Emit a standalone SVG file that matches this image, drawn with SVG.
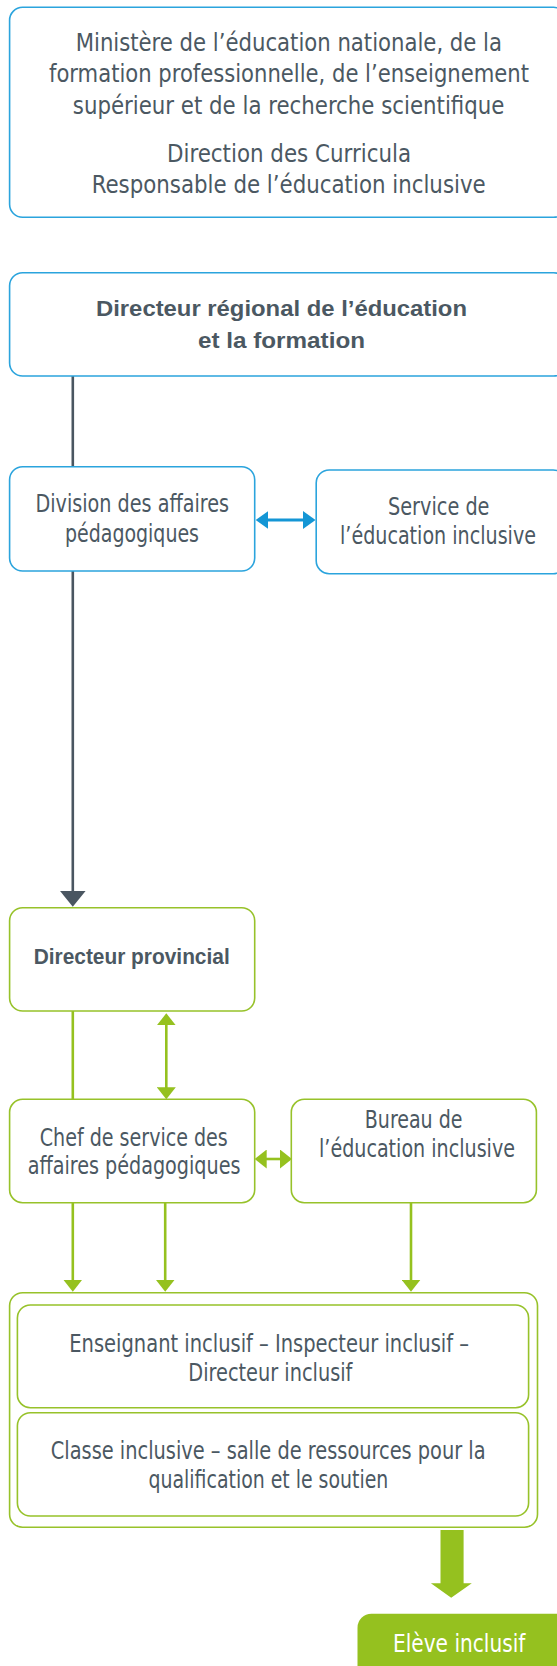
<svg xmlns="http://www.w3.org/2000/svg" width="557" height="1666" viewBox="0 0 557 1666">
<style>
  .bb { fill: #ffffff; stroke: #2ba4dd; stroke-width: 1.6; }
  .gb { fill: #ffffff; stroke: #97c22a; stroke-width: 1.6; }
  .t { font-family: "Liberation Sans Narrow", "DejaVu Sans Condensed", "Liberation Sans", sans-serif; font-size: 24px; fill: #4b5862; }
  .tb { font-family: "Liberation Sans", Arial, sans-serif; font-size: 21.5px; font-weight: bold; fill: #4b5862; }
  .tw { font-family: "Liberation Sans Narrow", "DejaVu Sans Condensed", "Liberation Sans", sans-serif; font-size: 24px; fill: #ffffff; }
  .cd { stroke: #4a5661; stroke-width: 2.6; fill: none; }
  .cg { stroke: #95c11f; stroke-width: 2.6; fill: none; }
  .cb { stroke: #1496d5; stroke-width: 3; fill: none; }
</style>
<defs>
  <marker id="mg" markerUnits="userSpaceOnUse" viewBox="0 0 12 19" markerWidth="12" markerHeight="19" refX="9" refY="9.5" orient="auto-start-reverse">
    <path d="M0,0 L12,9.5 L0,19 Z" fill="#95c11f"/>
  </marker>
  <marker id="mb" markerUnits="userSpaceOnUse" viewBox="0 0 12.5 18" markerWidth="12.5" markerHeight="18" refX="9.5" refY="9" orient="auto-start-reverse">
    <path d="M0,0 L12.5,9 L0,18 Z" fill="#1496d5"/>
  </marker>
  <marker id="md" markerUnits="userSpaceOnUse" viewBox="0 0 16 26" markerWidth="16" markerHeight="26" refX="13" refY="13" orient="auto">
    <path d="M0,0 L16,13 L0,26 Z" fill="#4a5661"/>
  </marker>
</defs>

<g id="connectors">
  <line class="cd" x1="72.8" y1="376" x2="72.8" y2="467"/>
  <line class="cd" x1="72.8" y1="571" x2="72.8" y2="903.7" marker-end="url(#md)"/>
  <line class="cb" x1="258.8" y1="520" x2="312.5" y2="520" marker-start="url(#mb)" marker-end="url(#mb)"/>
  <line class="cg" x1="72.8" y1="1011" x2="72.8" y2="1099.3"/>
  <line class="cg" x1="166.3" y1="1016.3" x2="166.3" y2="1096.3" marker-start="url(#mg)" marker-end="url(#mg)"/>
  <line class="cg" x1="257.7" y1="1159" x2="289" y2="1159" marker-start="url(#mg)" marker-end="url(#mg)"/>
  <line class="cg" x1="72.8" y1="1202.7" x2="72.8" y2="1288.7" marker-end="url(#mg)"/>
  <line class="cg" x1="165.2" y1="1202.7" x2="165.2" y2="1288.7" marker-end="url(#mg)"/>
  <line class="cg" x1="411" y1="1202.7" x2="411" y2="1288.7" marker-end="url(#mg)"/>
  <polygon points="440.5,1530 463.6,1530 463.6,1583.3 471.8,1583.3 451.2,1597.7 430.9,1583.3 440.5,1583.3" fill="#95c11f"/>
</g>

<g id="ministere">
  <rect class="bb" x="9.6" y="7.3" width="557" height="210" rx="13"/>
  <text class="t" x="75.7" y="50.7" textLength="426.3" lengthAdjust="spacingAndGlyphs">Ministère de l’éducation nationale, de la</text>
  <text class="t" x="49" y="81.7" textLength="480" lengthAdjust="spacingAndGlyphs">formation professionnelle, de l’enseignement</text>
  <text class="t" x="72.8" y="114.3" textLength="431.6" lengthAdjust="spacingAndGlyphs">supérieur et de la recherche scientifique</text>
  <text class="t" x="167" y="161.7" textLength="244" lengthAdjust="spacingAndGlyphs">Direction des Curricula</text>
  <text class="t" x="91.7" y="193.3" textLength="394" lengthAdjust="spacingAndGlyphs">Responsable de l’éducation inclusive</text>
</g>

<g id="directeur-regional">
  <rect class="bb" x="9.6" y="272.7" width="557" height="103.3" rx="13"/>
  <text class="tb" x="96" y="316" textLength="371" lengthAdjust="spacingAndGlyphs">Directeur régional de l’éducation</text>
  <text class="tb" x="198" y="348.3" textLength="167" lengthAdjust="spacingAndGlyphs">et la formation</text>
</g>

<g id="division">
  <rect class="bb" x="9.6" y="466.7" width="245.1" height="104.3" rx="13"/>
  <text class="t" x="35.5" y="511.7" textLength="193.5" lengthAdjust="spacingAndGlyphs">Division des affaires</text>
  <text class="t" x="65" y="541.7" textLength="134" lengthAdjust="spacingAndGlyphs">pédagogiques</text>
</g>

<g id="service">
  <rect class="bb" x="316.2" y="470" width="250" height="103.7" rx="13"/>
  <text class="t" x="388" y="515" textLength="101.5" lengthAdjust="spacingAndGlyphs">Service de</text>
  <text class="t" x="340" y="544" textLength="196" lengthAdjust="spacingAndGlyphs">l’éducation inclusive</text>
</g>

<g id="directeur-provincial">
  <rect class="gb" x="9.6" y="907.7" width="245.1" height="103.3" rx="13"/>
  <text class="tb" x="33.7" y="964.3" textLength="196" lengthAdjust="spacingAndGlyphs">Directeur provincial</text>
</g>

<g id="chef-service">
  <rect class="gb" x="9.6" y="1099.3" width="245.1" height="103.4" rx="13"/>
  <text class="t" x="39.8" y="1146" textLength="188" lengthAdjust="spacingAndGlyphs">Chef de service des</text>
  <text class="t" x="27.7" y="1174.3" textLength="212.8" lengthAdjust="spacingAndGlyphs">affaires pédagogiques</text>
</g>

<g id="bureau">
  <rect class="gb" x="291.3" y="1099.3" width="245.1" height="103.4" rx="13"/>
  <text class="t" x="364.8" y="1127.7" textLength="97.7" lengthAdjust="spacingAndGlyphs">Bureau de</text>
  <text class="t" x="319" y="1157.3" textLength="196" lengthAdjust="spacingAndGlyphs">l’éducation inclusive</text>
</g>

<g id="groupe-inclusif">
  <rect class="gb" x="9.6" y="1292.7" width="527.9" height="234.6" rx="13"/>
</g>

<g id="enseignant">
  <rect class="gb" x="17.4" y="1305" width="511.2" height="102.7" rx="13"/>
  <text class="t" x="69.3" y="1351.7" textLength="399.7" lengthAdjust="spacingAndGlyphs">Enseignant inclusif – Inspecteur inclusif –</text>
  <text class="t" x="188.3" y="1380.7" textLength="164.1" lengthAdjust="spacingAndGlyphs">Directeur inclusif</text>
</g>

<g id="classe">
  <rect class="gb" x="17.4" y="1412.7" width="511.2" height="103.3" rx="13"/>
  <text class="t" x="50.8" y="1459.3" textLength="434.8" lengthAdjust="spacingAndGlyphs">Classe inclusive – salle de ressources pour la</text>
  <text class="t" x="148.5" y="1488.3" textLength="239.8" lengthAdjust="spacingAndGlyphs">qualification et le soutien</text>
</g>

<g id="eleve">
  <rect x="357.5" y="1613.7" width="220" height="80" rx="14" fill="#95c11f"/>
  <text class="tw" x="393" y="1652" textLength="132.3" lengthAdjust="spacingAndGlyphs">Elève inclusif</text>
</g>
</svg>
